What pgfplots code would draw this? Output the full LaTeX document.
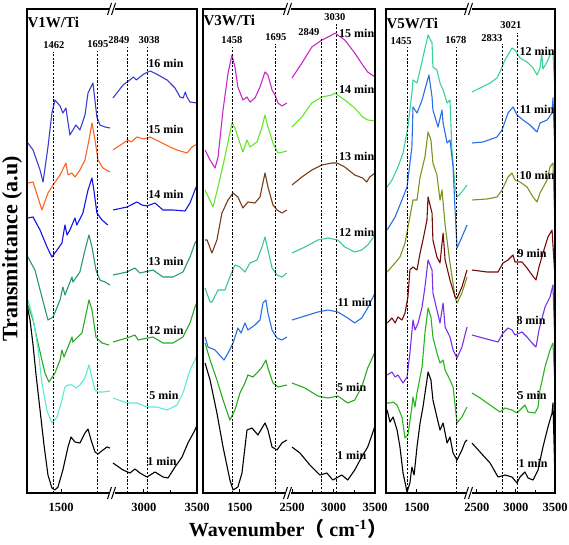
\documentclass[border=0pt]{standalone}
\usepackage{pgfplots}
\pgfplotsset{compat=1.18}
\usepackage{fontspec}
\setmainfont{Liberation Serif}
\newfontfamily\cjk{Noto Sans CJK SC}
\definecolor{cA}{RGB}{60,60,210}
\definecolor{cB}{RGB}{255,100,30}
\definecolor{cC}{RGB}{20,20,230}
\definecolor{cD}{RGB}{40,150,120}
\definecolor{cE}{RGB}{40,170,40}
\definecolor{cF}{RGB}{90,235,210}
\definecolor{mA}{RGB}{200,40,200}
\definecolor{mB}{RGB}{100,230,40}
\definecolor{mC}{RGB}{120,60,20}
\definecolor{mD}{RGB}{60,200,150}
\definecolor{mE}{RGB}{40,110,230}
\definecolor{mF}{RGB}{40,170,30}
\definecolor{nA}{RGB}{60,210,150}
\definecolor{nB}{RGB}{40,110,230}
\definecolor{nC}{RGB}{120,150,30}
\definecolor{nD}{RGB}{120,10,10}
\definecolor{nE}{RGB}{120,50,230}
\definecolor{nF}{RGB}{40,180,30}
\pgfplotsset{
  seg/.style={scale only axis, height=484pt, ymin=0, ymax=484, ytick=\empty,
    anchor=south west, axis x line*=bottom, axis y line=none, clip=false,
    axis line style={-, line width=1.2pt},
    tick align=inside, scaled x ticks=false,
    major tick length=4pt, minor tick length=3pt,
    every tick/.style={black, line width=1pt},
    xticklabel style={font=\fontsize{12.5}{14}\selectfont\bfseries, yshift=-7pt},
    /pgf/number format/assume math mode=true,
    every axis plot/.append style={line width=1.1pt, line join=round}},
  dsh/.style={black, line width=0.9pt, dash pattern=on 2.2pt off 1.6pt},
}
\newcommand\lab{\fontsize{10.5}{11}\selectfont\bfseries}
\newcommand\mlab{\fontsize{12}{13}\selectfont\bfseries}
\newcommand\ttl{\fontsize{15}{16}\selectfont\bfseries}
\begin{document}
\begin{tikzpicture}
\useasboundingbox (0pt,0pt) rectangle (569pt,544pt);
% ================= Panel 1 left
\begin{axis}[seg, at={(27pt,51pt)}, width=85pt, xmin=1320, xmax=1770, xtick={1500}, xticklabels={1500}]
\addplot[cA] coordinates {(1325,350)(1352,343)(1389,323)(1405,311)(1431,346)(1452,380)(1468,393)(1495,387)(1510,380)(1526,385)(1547,358)(1579,368)(1600,363)(1627,378)(1643,400)(1669,410)(1690,376)(1706,368)(1733,366)(1759,365)};
\addplot[cB] coordinates {(1325,310)(1352,311)(1399,283)(1431,300)(1458,308)(1495,318)(1526,330)(1537,318)(1558,320)(1574,316)(1600,323)(1627,333)(1648,353)(1664,370)(1680,353)(1696,333)(1722,325)(1759,321)};
\addplot[cC] coordinates {(1325,275)(1352,276)(1389,263)(1426,246)(1452,236)(1479,243)(1505,250)(1521,268)(1532,258)(1547,263)(1574,275)(1584,268)(1616,280)(1643,303)(1664,315)(1674,303)(1690,280)(1717,273)(1748,268)};
\addplot[cD] coordinates {(1325,236)(1362,223)(1399,196)(1431,173)(1458,176)(1495,193)(1510,206)(1521,198)(1558,216)(1563,211)(1600,221)(1627,243)(1648,258)(1664,246)(1685,223)(1706,213)(1733,211)(1759,208)};
\addplot[cE] coordinates {(1325,188)(1352,173)(1378,150)(1415,120)(1436,111)(1468,120)(1495,133)(1505,143)(1516,136)(1558,156)(1563,151)(1611,160)(1637,183)(1648,193)(1664,183)(1685,156)(1717,150)(1754,148)};
\addplot[cF] coordinates {(1325,193)(1352,175)(1378,145)(1399,110)(1426,82)(1452,70)(1479,76)(1505,93)(1521,106)(1537,108)(1558,108)(1579,105)(1600,108)(1627,115)(1648,128)(1664,115)(1680,103)(1696,101)(1722,101)(1759,102)};
\addplot[black] coordinates {(1320,188)(1336,173)(1352,148)(1368,118)(1389,83)(1410,48)(1431,18)(1452,5)(1468,3)(1484,6)(1510,23)(1537,46)(1553,56)(1574,51)(1600,50)(1627,60)(1643,64)(1659,53)(1680,41)(1696,39)(1722,43)(1743,46)(1759,45)};
\addplot[dsh] coordinates {(1462,0)(1462,441)};
\addplot[dsh] coordinates {(1695,0)(1695,442)};
\node[font=\lab] at (axis cs:1462,448) {1462};
\node[font=\lab] at (axis cs:1695,449) {1695};
\node[font=\ttl, anchor=west, inner sep=0pt] at (axis cs:1322,471) {V1W/Ti};
\end{axis}
% ================= Panel 1 right
\begin{axis}[seg, at={(112pt,51pt)}, width=85pt, xmin=2700, xmax=3500, xtick={3000,3500}, xticklabels={3000,3500}, minor xtick={3250}]
\addplot[cA] coordinates {(2709,395)(2804,408)(2830,410)(2869,413)(2900,416)(2930,413)(2963,416)(3000,419)(3058,422)(3100,420)(3152,417)(3218,413)(3293,405)(3340,396)(3370,395)(3390,401)(3406,396)(3434,391)(3500,390)};
\addplot[cB] coordinates {(2709,343)(2851,353)(2880,351)(2935,356)(3000,354)(3058,356)(3152,351)(3246,346)(3312,343)(3406,340)(3453,346)(3500,349)};
\addplot[cC] coordinates {(2709,283)(2841,286)(2935,291)(2982,288)(3029,287)(3105,290)(3180,283)(3274,283)(3387,282)(3434,290)(3481,303)(3500,308)};
\addplot[cD] coordinates {(2709,218)(2841,221)(2916,225)(2963,220)(3086,223)(3180,216)(3274,216)(3368,221)(3434,236)(3481,250)(3500,253)};
\addplot[cE] coordinates {(2709,151)(2841,155)(2916,158)(2945,153)(3086,156)(3180,150)(3274,150)(3368,156)(3434,170)(3481,186)(3500,191)};
\addplot[cF] coordinates {(2709,95)(2841,90)(2935,90)(3029,86)(3123,86)(3218,83)(3312,88)(3368,100)(3434,123)(3481,133)(3500,138)};
\addplot[black] coordinates {(2709,30)(2804,23)(2869,20)(2916,24)(2963,20)(3029,16)(3105,21)(3180,16)(3227,15)(3293,26)(3359,36)(3415,50)(3481,63)(3500,68)};
\addplot[dsh] coordinates {(2849,0)(2849,446)};
\addplot[dsh] coordinates {(3038,0)(3038,446)};
\node[font=\lab] at (axis cs:2765,453) {2849};
\node[font=\lab] at (axis cs:3050,453) {3038};
\node[font=\mlab] at (axis cs:3208,430) {16 min};
\node[font=\mlab] at (axis cs:3208,364) {15 min};
\node[font=\mlab] at (axis cs:3208,299) {14 min};
\node[font=\mlab] at (axis cs:3208,232) {13 min};
\node[font=\mlab] at (axis cs:3208,163) {12 min};
\node[font=\mlab] at (axis cs:3189,98) {5 min};
\node[font=\mlab] at (axis cs:3170,32) {1 min};
\end{axis}
% ================= Panel 2 left
\begin{axis}[seg, at={(203pt,51pt)}, width=85pt, xmin=1302, xmax=1760, xtick={1500}, xticklabels={1500}]
\addplot[mA] coordinates {(1313,343)(1340,333)(1367,325)(1383,336)(1410,383)(1437,420)(1458,438)(1474,426)(1490,406)(1517,393)(1539,396)(1555,391)(1582,395)(1609,406)(1636,421)(1652,418)(1674,403)(1690,398)(1706,390)(1727,387)(1754,390)};
\addplot[mB] coordinates {(1313,303)(1356,286)(1383,306)(1420,336)(1458,370)(1474,365)(1490,356)(1517,341)(1539,353)(1555,346)(1593,351)(1620,366)(1636,378)(1652,366)(1679,350)(1706,340)(1733,341)(1754,342)};
\addplot[mC] coordinates {(1313,253)(1324,253)(1350,240)(1377,253)(1404,280)(1437,293)(1464,300)(1490,296)(1517,285)(1544,291)(1582,290)(1609,296)(1636,320)(1652,306)(1679,288)(1701,283)(1727,280)(1754,283)};
\addplot[mD] coordinates {(1313,205)(1340,191)(1350,191)(1383,203)(1420,203)(1447,216)(1474,228)(1501,226)(1528,221)(1555,230)(1593,233)(1620,246)(1636,256)(1652,243)(1674,225)(1701,218)(1727,216)(1754,220)};
\addplot[mE] coordinates {(1313,156)(1329,146)(1367,143)(1415,133)(1437,140)(1464,150)(1490,165)(1507,160)(1528,170)(1544,163)(1582,168)(1609,173)(1625,190)(1641,193)(1652,180)(1674,163)(1701,155)(1727,153)(1754,156)};
\addplot[mF] coordinates {(1313,150)(1340,133)(1377,113)(1410,93)(1447,73)(1474,83)(1501,100)(1528,110)(1544,118)(1571,116)(1598,121)(1620,126)(1641,133)(1652,125)(1679,110)(1706,106)(1754,108)};
\addplot[black] coordinates {(1313,130)(1340,113)(1377,80)(1410,46)(1447,13)(1464,3)(1490,6)(1512,20)(1539,63)(1566,65)(1598,58)(1620,65)(1636,70)(1652,63)(1674,46)(1701,43)(1727,50)(1754,53)};
\addplot[dsh] coordinates {(1458,0)(1458,446)};
\addplot[dsh] coordinates {(1695,0)(1695,449)};
\node[font=\lab] at (axis cs:1458,453) {1458};
\node[font=\lab] at (axis cs:1695,456) {1695};
\node[font=\ttl, anchor=west, inner sep=0pt] at (axis cs:1304,473) {V3W/Ti};
\end{axis}
% ================= Panel 2 right
\begin{axis}[seg, at={(288pt,51pt)}, width=87pt, xmin=2450, xmax=3500, xtick={2500,3000,3500}, xticklabels={2500,3000,3500}, minor xtick={2750,3250}]
\addplot[mA] coordinates {(2498,415)(2618,430)(2738,446)(2859,453)(2979,458)(3015,460)(3135,453)(3255,440)(3351,428)(3412,421)(3500,416)};
\addplot[mB] coordinates {(2498,366)(2618,376)(2738,390)(2859,396)(2979,398)(3015,400)(3135,393)(3255,385)(3351,376)(3412,373)(3500,372)};
\addplot[mC] coordinates {(2498,308)(2618,316)(2738,323)(2859,328)(2979,330)(3039,330)(3135,326)(3255,318)(3351,315)(3400,311)(3436,316)(3500,320)};
\addplot[mD] coordinates {(2498,240)(2654,246)(2811,253)(2931,255)(3051,253)(3135,246)(3255,241)(3339,243)(3412,248)(3500,258)};
\addplot[mE] coordinates {(2498,173)(2654,177)(2811,181)(2931,183)(3051,181)(3171,175)(3255,170)(3339,175)(3412,185)(3500,200)};
\addplot[mF] coordinates {(2498,110)(2654,105)(2811,97)(2931,95)(3051,97)(3171,90)(3255,93)(3339,106)(3412,125)(3500,141)};
\addplot[black] coordinates {(2498,46)(2594,40)(2714,28)(2835,18)(2919,20)(2991,13)(3099,18)(3171,13)(3255,23)(3339,36)(3412,46)(3484,63)(3500,68)};
\addplot[dsh] coordinates {(2849,0)(2849,455)};
\addplot[dsh] coordinates {(3030,0)(3030,469)};
\node[font=\lab] at (axis cs:2702,461) {2849};
\node[font=\lab] at (axis cs:3015,476) {3030};
\node[font=\mlab] at (axis cs:3279,460) {15 min};
\node[font=\mlab] at (axis cs:3279,404) {14 min};
\node[font=\mlab] at (axis cs:3279,337) {13 min};
\node[font=\mlab] at (axis cs:3279,261) {12 min};
\node[font=\mlab] at (axis cs:3255,191) {11 min};
\node[font=\mlab] at (axis cs:3219,106) {5 min};
\node[font=\mlab] at (axis cs:3219,38) {1 min};
\end{axis}
% ================= Panel 3 left
\begin{axis}[seg, at={(386pt,51pt)}, width=83pt, xmin=1360, xmax=1735, xtick={1500}, xticklabels={1500}]
\addplot[nA] coordinates {(1365,306)(1387,313)(1414,326)(1437,340)(1459,366)(1477,400)(1482,413)(1500,410)(1514,423)(1527,436)(1545,453)(1550,458)(1568,450)(1572,426)(1590,423)(1604,410)(1618,403)(1636,390)(1649,393)(1658,343)(1672,306)(1681,296)(1703,301)(1726,308)};
\addplot[nB] coordinates {(1365,263)(1401,276)(1432,293)(1455,306)(1477,346)(1482,386)(1500,380)(1523,393)(1545,411)(1554,418)(1568,396)(1572,383)(1595,366)(1613,383)(1618,370)(1636,350)(1649,353)(1663,326)(1672,283)(1681,245)(1703,256)(1726,268)};
\addplot[nC] coordinates {(1365,221)(1401,230)(1423,236)(1446,250)(1459,266)(1468,276)(1482,293)(1500,293)(1514,316)(1536,336)(1550,361)(1563,353)(1572,330)(1590,318)(1604,293)(1613,303)(1627,268)(1649,230)(1672,196)(1681,190)(1703,200)(1726,216)};
\addplot[nD] coordinates {(1365,170)(1387,175)(1401,170)(1414,176)(1432,173)(1446,180)(1459,196)(1468,223)(1482,226)(1500,223)(1514,240)(1527,253)(1545,273)(1550,296)(1568,280)(1572,253)(1590,236)(1604,230)(1618,260)(1627,233)(1649,213)(1672,196)(1681,195)(1703,206)(1726,223)};
\addplot[nE] coordinates {(1365,118)(1387,121)(1401,116)(1414,118)(1437,110)(1455,116)(1468,140)(1482,173)(1491,163)(1505,170)(1523,186)(1536,206)(1550,233)(1568,223)(1572,200)(1590,183)(1604,170)(1618,190)(1627,166)(1649,156)(1663,143)(1681,135)(1703,146)(1726,166)};
\addplot[nF] coordinates {(1365,90)(1378,90)(1392,91)(1410,88)(1432,76)(1446,55)(1459,58)(1477,86)(1482,96)(1491,86)(1500,100)(1523,126)(1536,160)(1550,185)(1563,176)(1572,156)(1590,140)(1604,130)(1618,133)(1627,123)(1649,113)(1663,106)(1681,70)(1703,76)(1726,86)};
\addplot[black] coordinates {(1365,83)(1378,71)(1392,76)(1410,63)(1423,46)(1437,20)(1455,1)(1468,10)(1477,26)(1487,18)(1500,46)(1514,70)(1527,86)(1545,113)(1550,121)(1563,113)(1572,93)(1590,76)(1604,63)(1618,70)(1636,50)(1649,56)(1663,40)(1681,33)(1703,43)(1717,51)(1726,53)};
\addplot[dsh] coordinates {(1455,0)(1455,446)};
\addplot[dsh] coordinates {(1678,0)(1678,446)};
\node[font=\lab] at (axis cs:1428,452) {1455};
\node[font=\lab] at (axis cs:1676,453) {1678};
\node[font=\ttl, anchor=west, inner sep=0pt] at (axis cs:1362,470) {V5W/Ti};
\end{axis}
% ================= Panel 3 right
\begin{axis}[seg, at={(469pt,51pt)}, width=86pt, xmin=2400, xmax=3500, xtick={2500,3000,3500}, xticklabels={2500,3000,3500}, minor xtick={2750,3250}]
\addplot[nA] coordinates {(2438,401)(2541,405)(2669,410)(2758,415)(2796,421)(2860,433)(2950,445)(2988,443)(3052,435)(3142,431)(3219,425)(3270,418)(3308,425)(3330,440)(3345,424)(3398,431)(3436,438)(3474,440)(3500,400)};
\addplot[nB] coordinates {(2438,350)(2579,351)(2758,356)(2822,363)(2899,380)(2963,386)(3014,378)(3091,373)(3180,368)(3270,361)(3308,370)(3398,373)(3462,380)(3474,395)(3500,338)};
\addplot[nC] coordinates {(2438,293)(2630,294)(2758,296)(2822,303)(2899,316)(2950,320)(2988,313)(3052,311)(3142,306)(3219,296)(3270,291)(3308,300)(3398,313)(3436,326)(3474,330)(3500,263)};
\addplot[nD] coordinates {(2438,223)(2630,221)(2771,221)(2835,230)(2899,233)(2963,238)(2988,231)(3078,231)(3142,225)(3206,218)(3257,213)(3295,226)(3346,240)(3410,256)(3462,263)(3500,215)};
\addplot[nE] coordinates {(2438,158)(2579,155)(2771,151)(2835,160)(2899,165)(2950,163)(2988,158)(3078,161)(3142,156)(3206,150)(3257,146)(3295,163)(3372,186)(3436,196)(3474,208)(3500,146)};
\addplot[nF] coordinates {(2438,100)(2541,95)(2669,88)(2796,81)(2860,85)(2950,83)(3014,80)(3052,83)(3116,88)(3155,81)(3244,80)(3283,86)(3308,103)(3372,126)(3436,143)(3474,150)(3500,106)};
\addplot[black] coordinates {(2438,50)(2541,41)(2669,30)(2771,16)(2860,18)(2950,16)(3014,10)(3052,16)(3116,21)(3155,15)(3219,13)(3283,23)(3346,46)(3410,66)(3462,80)(3474,90)(3500,13)};
\addplot[dsh] coordinates {(2833,0)(2833,449)};
\addplot[dsh] coordinates {(3021,0)(3021,460)};
\node[font=\lab] at (axis cs:2694,455) {2833};
\node[font=\lab] at (axis cs:2937,468) {3021};
\node[font=\mlab] at (axis cs:3270,442) {12 min};
\node[font=\mlab] at (axis cs:3270,384) {11 min};
\node[font=\mlab] at (axis cs:3270,318) {10 min};
\node[font=\mlab] at (axis cs:3206,240) {9 min};
\node[font=\mlab] at (axis cs:3193,173) {8 min};
\node[font=\mlab] at (axis cs:3206,98) {5 min};
\node[font=\mlab] at (axis cs:3219,30) {1 min};
\end{axis}
% ================= frames and breaks
\draw[line width=1.4pt] (27pt,51pt) rectangle (197pt,535pt);
\draw[line width=1.4pt] (203pt,51pt) rectangle (375pt,535pt);
\draw[line width=1.4pt] (386pt,51pt) rectangle (555pt,535pt);
\foreach \bx in {112,288,469}{
  \foreach \by in {51,535}{
    \fill[white] (\bx pt-2.5pt,\by pt-1.5pt) rectangle (\bx pt+2.5pt,\by pt+1.5pt);
    \draw[line width=1pt] (\bx pt-4.5pt,\by pt-6pt) -- (\bx pt-0.5pt,\by pt+6pt);
    \draw[line width=1pt] (\bx pt-0.5pt,\by pt-6pt) -- (\bx pt+3.5pt,\by pt+6pt);
  }
}
\node[rotate=90, font=\fontsize{22}{24}\selectfont\bfseries] at (12pt,295pt) {Transmittance (a.u)};
\node[font=\fontsize{20}{22}\selectfont\bfseries] at (288pt,15pt) {Wavenumber{\cjk （} cm\textsuperscript{-1}{\cjk ）}};
\end{tikzpicture}
\end{document}
